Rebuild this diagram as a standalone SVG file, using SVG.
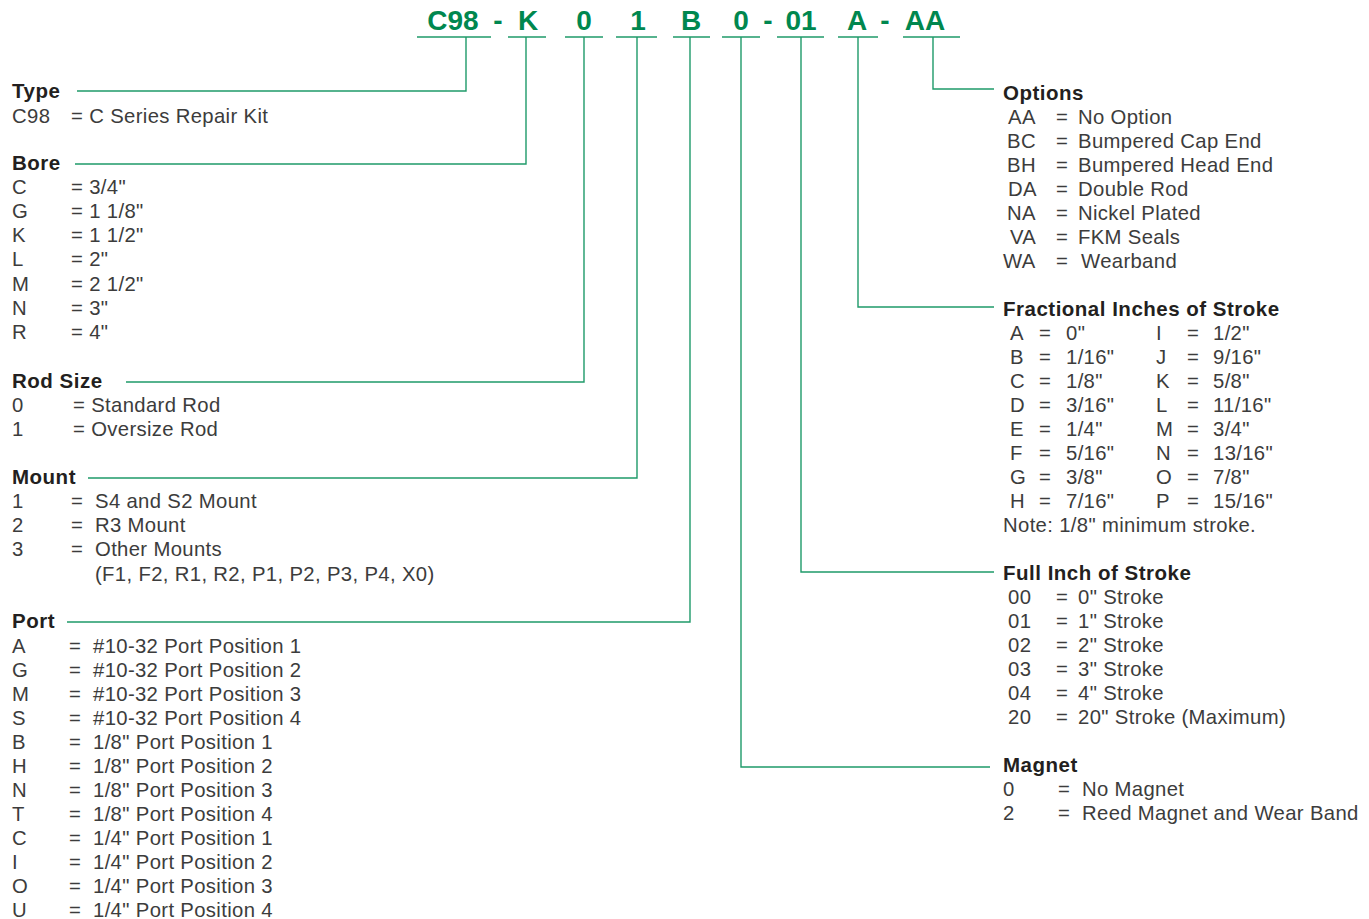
<svg xmlns="http://www.w3.org/2000/svg" width="1369" height="919" viewBox="0 0 1369 919">
<style>
.code{font-family:"Liberation Sans",Arial,sans-serif;font-weight:bold;font-size:28px;fill:#00874f;text-anchor:middle}
.h{font-family:"Liberation Sans",Arial,sans-serif;font-weight:bold;font-size:20.5px;letter-spacing:0.5px;fill:#231f20}
.t{font-family:"Liberation Sans",Arial,sans-serif;font-size:20.3px;letter-spacing:0.35px;fill:#3c3c3c}
.ln{stroke:#1f9a6a;stroke-width:1.4;fill:none}
</style>
<rect width="1369" height="919" fill="#ffffff"/>
<g id="header">
<text class="code" x="453" y="30">C98</text>
<text class="code" x="498" y="30">-</text>
<text class="code" x="528" y="30">K</text>
<text class="code" x="584" y="30">0</text>
<text class="code" x="638" y="30">1</text>
<text class="code" x="691" y="30">B</text>
<text class="code" x="741" y="30">0</text>
<text class="code" x="768" y="30">-</text>
<text class="code" x="801" y="30">01</text>
<text class="code" x="857" y="30">A</text>
<text class="code" x="885" y="30">-</text>
<text class="code" x="925" y="30">AA</text>
</g>
<g id="connectors" class="ln">
<path d="M417 37H491M508 37H546M565 37H603M616 37H657M673 37H710M722 37H760M777 37H824M838 37H878M903 37H960"/>
<path d="M466 37V91H77"/>
<path d="M526 37V164H75"/>
<path d="M584 37V382H126"/>
<path d="M637 37V478H88"/>
<path d="M690 37V622H67"/>
<path d="M741 37V767H990"/>
<path d="M801 37V572H994"/>
<path d="M858 37V307H994"/>
<path d="M933 37V89H994"/>
</g>
<g id="type">
<text class="h" x="12" y="98">Type</text>
<text class="t" x="12" y="123">C98</text><text class="t" x="71" y="123">= C Series Repair Kit</text>
</g>
<g id="bore">
<text class="h" x="12" y="170">Bore</text>
<text class="t" x="12" y="194">C</text><text class="t" x="71" y="194">= 3/4"</text>
<text class="t" x="12" y="218">G</text><text class="t" x="71" y="218">= 1 1/8"</text>
<text class="t" x="12" y="242">K</text><text class="t" x="71" y="242">= 1 1/2"</text>
<text class="t" x="12" y="266">L</text><text class="t" x="71" y="266">= 2"</text>
<text class="t" x="12" y="291">M</text><text class="t" x="71" y="291">= 2 1/2"</text>
<text class="t" x="12" y="315">N</text><text class="t" x="71" y="315">= 3"</text>
<text class="t" x="12" y="339">R</text><text class="t" x="71" y="339">= 4"</text>
</g>
<g id="rodsize">
<text class="h" x="12" y="388">Rod Size</text>
<text class="t" x="12" y="412">0</text><text class="t" x="73" y="412">= Standard Rod</text>
<text class="t" x="12" y="436">1</text><text class="t" x="73" y="436">= Oversize Rod</text>
</g>
<g id="mount">
<text class="h" x="12" y="484">Mount</text>
<text class="t" x="12" y="508">1</text><text class="t" x="71" y="508">=</text><text class="t" x="95" y="508">S4 and S2 Mount</text>
<text class="t" x="12" y="532">2</text><text class="t" x="71" y="532">=</text><text class="t" x="95" y="532">R3 Mount</text>
<text class="t" x="12" y="556">3</text><text class="t" x="71" y="556">=</text><text class="t" x="95" y="556">Other Mounts</text>
<text class="t" x="95" y="581">(F1, F2, R1, R2, P1, P2, P3, P4, X0)</text>
</g>
<g id="port">
<text class="h" x="12" y="628">Port</text>
<text class="t" x="12" y="653">A</text><text class="t" x="69" y="653">=</text><text class="t" x="93" y="653">#10-32 Port Position 1</text>
<text class="t" x="12" y="677">G</text><text class="t" x="69" y="677">=</text><text class="t" x="93" y="677">#10-32 Port Position 2</text>
<text class="t" x="12" y="701">M</text><text class="t" x="69" y="701">=</text><text class="t" x="93" y="701">#10-32 Port Position 3</text>
<text class="t" x="12" y="725">S</text><text class="t" x="69" y="725">=</text><text class="t" x="93" y="725">#10-32 Port Position 4</text>
<text class="t" x="12" y="749">B</text><text class="t" x="69" y="749">=</text><text class="t" x="93" y="749">1/8" Port Position 1</text>
<text class="t" x="12" y="773">H</text><text class="t" x="69" y="773">=</text><text class="t" x="93" y="773">1/8" Port Position 2</text>
<text class="t" x="12" y="797">N</text><text class="t" x="69" y="797">=</text><text class="t" x="93" y="797">1/8" Port Position 3</text>
<text class="t" x="12" y="821">T</text><text class="t" x="69" y="821">=</text><text class="t" x="93" y="821">1/8" Port Position 4</text>
<text class="t" x="12" y="845">C</text><text class="t" x="69" y="845">=</text><text class="t" x="93" y="845">1/4" Port Position 1</text>
<text class="t" x="12" y="869">I</text><text class="t" x="69" y="869">=</text><text class="t" x="93" y="869">1/4" Port Position 2</text>
<text class="t" x="12" y="893">O</text><text class="t" x="69" y="893">=</text><text class="t" x="93" y="893">1/4" Port Position 3</text>
<text class="t" x="12" y="917">U</text><text class="t" x="69" y="917">=</text><text class="t" x="93" y="917">1/4" Port Position 4</text>
</g>
<g id="options">
<text class="h" x="1003" y="100">Options</text>
<text class="t" x="1008" y="124">AA</text><text class="t" x="1056" y="124">=</text><text class="t" x="1078" y="124">No Option</text>
<text class="t" x="1007" y="148">BC</text><text class="t" x="1056" y="148">=</text><text class="t" x="1078" y="148">Bumpered Cap End</text>
<text class="t" x="1007" y="172">BH</text><text class="t" x="1056" y="172">=</text><text class="t" x="1078" y="172">Bumpered Head End</text>
<text class="t" x="1008" y="196">DA</text><text class="t" x="1056" y="196">=</text><text class="t" x="1078" y="196">Double Rod</text>
<text class="t" x="1007" y="220">NA</text><text class="t" x="1056" y="220">=</text><text class="t" x="1078" y="220">Nickel Plated</text>
<text class="t" x="1010" y="244">VA</text><text class="t" x="1056" y="244">=</text><text class="t" x="1078" y="244">FKM Seals</text>
<text class="t" x="1003" y="268">WA</text><text class="t" x="1056" y="268">=</text><text class="t" x="1081" y="268">Wearband</text>
</g>
<g id="fractional">
<text class="h" x="1003" y="316">Fractional Inches of Stroke</text>
<text class="t" x="1010" y="340">A</text><text class="t" x="1039" y="340">=</text><text class="t" x="1066" y="340">0"</text>
<text class="t" x="1010" y="364">B</text><text class="t" x="1039" y="364">=</text><text class="t" x="1066" y="364">1/16"</text>
<text class="t" x="1010" y="388">C</text><text class="t" x="1039" y="388">=</text><text class="t" x="1066" y="388">1/8"</text>
<text class="t" x="1010" y="412">D</text><text class="t" x="1039" y="412">=</text><text class="t" x="1066" y="412">3/16"</text>
<text class="t" x="1010" y="436">E</text><text class="t" x="1039" y="436">=</text><text class="t" x="1066" y="436">1/4"</text>
<text class="t" x="1010" y="460">F</text><text class="t" x="1039" y="460">=</text><text class="t" x="1066" y="460">5/16"</text>
<text class="t" x="1010" y="484">G</text><text class="t" x="1039" y="484">=</text><text class="t" x="1066" y="484">3/8"</text>
<text class="t" x="1010" y="508">H</text><text class="t" x="1039" y="508">=</text><text class="t" x="1066" y="508">7/16"</text>
<text class="t" x="1156" y="340">I</text><text class="t" x="1187" y="340">=</text><text class="t" x="1213" y="340">1/2"</text>
<text class="t" x="1156" y="364">J</text><text class="t" x="1187" y="364">=</text><text class="t" x="1213" y="364">9/16"</text>
<text class="t" x="1156" y="388">K</text><text class="t" x="1187" y="388">=</text><text class="t" x="1213" y="388">5/8"</text>
<text class="t" x="1156" y="412">L</text><text class="t" x="1187" y="412">=</text><text class="t" x="1213" y="412">11/16"</text>
<text class="t" x="1156" y="436">M</text><text class="t" x="1187" y="436">=</text><text class="t" x="1213" y="436">3/4"</text>
<text class="t" x="1156" y="460">N</text><text class="t" x="1187" y="460">=</text><text class="t" x="1213" y="460">13/16"</text>
<text class="t" x="1156" y="484">O</text><text class="t" x="1187" y="484">=</text><text class="t" x="1213" y="484">7/8"</text>
<text class="t" x="1156" y="508">P</text><text class="t" x="1187" y="508">=</text><text class="t" x="1213" y="508">15/16"</text>
<text class="t" x="1003" y="532">Note: 1/8" minimum stroke.</text>
</g>
<g id="fullinch">
<text class="h" x="1003" y="580">Full Inch of Stroke</text>
<text class="t" x="1008" y="604">00</text><text class="t" x="1056" y="604">=</text><text class="t" x="1078" y="604">0" Stroke</text>
<text class="t" x="1008" y="628">01</text><text class="t" x="1056" y="628">=</text><text class="t" x="1078" y="628">1" Stroke</text>
<text class="t" x="1008" y="652">02</text><text class="t" x="1056" y="652">=</text><text class="t" x="1078" y="652">2" Stroke</text>
<text class="t" x="1008" y="676">03</text><text class="t" x="1056" y="676">=</text><text class="t" x="1078" y="676">3" Stroke</text>
<text class="t" x="1008" y="700">04</text><text class="t" x="1056" y="700">=</text><text class="t" x="1078" y="700">4" Stroke</text>
<text class="t" x="1008" y="724">20</text><text class="t" x="1056" y="724">=</text><text class="t" x="1078" y="724">20" Stroke (Maximum)</text>
</g>
<g id="magnet">
<text class="h" x="1003" y="772">Magnet</text>
<text class="t" x="1003" y="796">0</text><text class="t" x="1058" y="796">=</text><text class="t" x="1082" y="796">No Magnet</text>
<text class="t" x="1003" y="820">2</text><text class="t" x="1058" y="820">=</text><text class="t" x="1082" y="820">Reed Magnet and Wear Band</text>
</g>
</svg>
